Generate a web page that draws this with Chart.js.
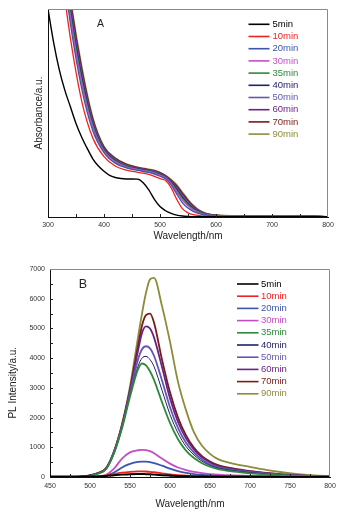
<!DOCTYPE html>
<html>
<head>
<meta charset="utf-8">
<script src="https://cdn.jsdelivr.net/npm/chart.js@4.4.0/dist/chart.umd.min.js"></script>
<style>
  body { margin: 0; background: #fff; }
  canvas { position: absolute; left: 0; }
  #chartA { top: 0; }
  #chartB { top: 245px; }
</style>
</head>
<body>
<canvas id="chartA" width="349" height="245"></canvas>
<canvas id="chartB" width="349" height="269"></canvas>
<script>
// Serienamn (reaktionstid)
const tider = ["5min", "10min", "20min", "30min", "35min", "40min", "50min", "60min", "70min", "90min"];

// Panel A: absorbans, våglängder
const absWl5 = [300, 310, 320, 330, 340, 350, 360, 370, 380, 390, 400, 410, 420, 430, 440, 450, 460, 470, 480, 490, 500, 510, 520, 530, 540, 550, 560, 600, 700, 800];
const absWl = [300, 320, 340, 360, 380, 400, 420, 440, 460, 480, 490, 500, 510, 520, 530, 540, 550, 560, 570, 580, 590, 600, 650, 700, 750, 800];

const abs5 = [1.0, 0.84, 0.71, 0.61, 0.53, 0.45, 0.385, 0.33, 0.28, 0.245, 0.22, 0.2, 0.19, 0.185, 0.183, 0.183, 0.182, 0.165, 0.13, 0.085, 0.05, 0.03, 0.017, 0.009, 0.005, 0.003, 0.002, 0.002, 0.002, 0.001];
const abs10 = [1.6, 1.25, 0.86, 0.56, 0.38, 0.29, 0.245, 0.225, 0.215, 0.205, 0.195, 0.185, 0.175, 0.14, 0.085, 0.04, 0.02, 0.011, 0.007, 0.005, 0.004, 0.003, 0.002, 0.002, 0.002, 0.001];
const abs20 = [1.7, 1.34, 0.93, 0.62, 0.415, 0.31, 0.259, 0.236, 0.224, 0.214, 0.206, 0.196, 0.184, 0.154, 0.11, 0.068, 0.043, 0.026, 0.016, 0.01, 0.007, 0.005, 0.003, 0.003, 0.003, 0.001];
const abs30 = [1.75, 1.375, 0.96, 0.645, 0.43, 0.315, 0.265, 0.24, 0.228, 0.218, 0.21, 0.2, 0.188, 0.16, 0.12, 0.08, 0.053, 0.033, 0.02, 0.012, 0.0085, 0.006, 0.004, 0.0035, 0.004, 0.0015];
const abs35 = [1.78, 1.4, 0.98, 0.66, 0.44, 0.32, 0.269, 0.243, 0.23, 0.22, 0.213, 0.203, 0.19, 0.164, 0.127, 0.088, 0.059, 0.037, 0.023, 0.014, 0.009, 0.0066, 0.0045, 0.0038, 0.0044, 0.0016];
const abs40 = [1.8, 1.42, 0.996, 0.676, 0.448, 0.324, 0.272, 0.245, 0.232, 0.222, 0.215, 0.205, 0.192, 0.167, 0.133, 0.094, 0.064, 0.041, 0.025, 0.015, 0.01, 0.007, 0.005, 0.004, 0.0047, 0.0017];
const abs50 = [1.83, 1.44, 1.012, 0.69, 0.456, 0.328, 0.275, 0.248, 0.234, 0.224, 0.218, 0.208, 0.194, 0.17, 0.138, 0.1, 0.069, 0.044, 0.027, 0.016, 0.011, 0.0076, 0.005, 0.0043, 0.005, 0.0018];
const abs60 = [1.85, 1.46, 1.028, 0.703, 0.464, 0.332, 0.279, 0.25, 0.236, 0.226, 0.22, 0.21, 0.196, 0.174, 0.144, 0.107, 0.075, 0.048, 0.029, 0.018, 0.0116, 0.008, 0.0054, 0.0045, 0.0054, 0.0018];
const abs70 = [1.88, 1.48, 1.044, 0.716, 0.472, 0.336, 0.282, 0.253, 0.238, 0.228, 0.223, 0.213, 0.198, 0.177, 0.149, 0.114, 0.08, 0.052, 0.031, 0.019, 0.0124, 0.0085, 0.0057, 0.0048, 0.0057, 0.0019];
const abs90 = [1.9, 1.5, 1.06, 0.73, 0.48, 0.34, 0.285, 0.255, 0.24, 0.23, 0.225, 0.215, 0.2, 0.18, 0.155, 0.12, 0.085, 0.055, 0.033, 0.02, 0.013, 0.009, 0.006, 0.005, 0.006, 0.002];

// Panel B: PL-intensitet
const plWl = [450, 460, 470, 480, 490, 500, 510, 520, 530, 540, 550, 560, 565, 570, 575, 580, 590, 600, 610, 620, 630, 640, 650, 660, 680, 700, 720, 740, 760, 780, 800];

const pl5 = [20, 20, 15, 15, 15, 15, 20, 35, 60, 80, 95, 100, 100, 95, 90, 80, 60, 45, 32, 24, 18, 15, 12, 10, 8, 6, 5, 4, 3, 2, 2];
const pl10 = [0, 0, 0, 0, 0, 5, 15, 45, 100, 145, 175, 190, 190, 185, 175, 160, 125, 90, 62, 42, 30, 22, 16, 12, 8, 5, 4, 3, 2, 1, 1];
const pl20 = [0, 0, 0, 0, 0, 3, 10, 40, 150, 320, 440, 510, 520, 515, 500, 470, 380, 280, 195, 135, 95, 68, 50, 38, 25, 17, 11, 8, 5, 3, 2];
const pl30 = [0, 0, 0, 0, 0, 5, 20, 70, 280, 620, 830, 900, 915, 905, 870, 800, 620, 450, 320, 235, 170, 128, 98, 78, 52, 36, 26, 18, 12, 8, 5];
const pl35 = [0, 0, 0, 4, 10, 40, 110, 260, 800, 1640, 2700, 3620, 3820, 3760, 3560, 3270, 2520, 1820, 1270, 890, 640, 465, 345, 265, 180, 125, 85, 55, 34, 20, 12];
const pl40 = [0, 0, 0, 4, 10, 42, 115, 265, 810, 1660, 2750, 3720, 4000, 4060, 3950, 3720, 2920, 2100, 1480, 1030, 740, 530, 390, 300, 210, 150, 100, 65, 40, 24, 14];
const pl50 = [0, 0, 0, 5, 12, 45, 120, 270, 820, 1680, 2820, 3950, 4300, 4400, 4330, 4080, 3250, 2350, 1650, 1150, 820, 590, 430, 330, 230, 165, 115, 72, 45, 27, 16];
const pl60 = [0, 0, 0, 5, 15, 50, 125, 280, 840, 1720, 2900, 4250, 4850, 5070, 5000, 4700, 3700, 2650, 1850, 1300, 920, 660, 490, 370, 260, 185, 130, 82, 50, 30, 18];
const pl70 = [0, 0, 0, 5, 15, 55, 130, 290, 850, 1750, 2950, 4400, 5100, 5450, 5500, 5200, 3950, 2850, 2000, 1400, 980, 700, 520, 400, 280, 200, 140, 90, 55, 32, 20];
const pl90 = [0, 0, 0, 5, 20, 60, 140, 300, 870, 1780, 3050, 4700, 5500, 6200, 6650, 6700, 5750, 4550, 3200, 2250, 1500, 1050, 780, 600, 440, 340, 240, 160, 100, 55, 30];

// Färger för serierna
const farger = ["#000000", "#ee2222", "#3a55aa", "#c44fc4", "#2e8a3a", "#22226a", "#6556b2", "#6a2288", "#7a1a1a", "#8c8c3a"];

const font = "'Liberation Sans', Arial, sans-serif";

// Ram, inåtvända streck, panelbokstav och legend
const ramPlugin = {
    id: "ram",
    afterDraw(chart, args, o) {
        const ctx = chart.ctx;
        const a = chart.chartArea;
        const x = chart.scales.x;
        const y = chart.scales.y;
        ctx.save();
        ctx.lineWidth = 1;
        ctx.strokeStyle = "#8a8a8a";
        ctx.beginPath();
        ctx.moveTo(a.left, a.top + 0.5);
        ctx.lineTo(a.right - 0.5, a.top + 0.5);
        ctx.lineTo(a.right - 0.5, a.bottom);
        ctx.stroke();

        ctx.strokeStyle = "#222";
        ctx.beginPath();
        if (o.xStep) {
            for (let v = x.min + o.xStep; v < x.max; v += o.xStep) {
                const px = Math.round(x.getPixelForValue(v)) + 0.5;
                ctx.moveTo(px, a.bottom);
                ctx.lineTo(px, a.bottom - 3);
            }
        }
        if (o.yStep) {
            for (let v = y.min + o.yStep; v < y.max; v += o.yStep) {
                const py = Math.round(y.getPixelForValue(v)) + 0.5;
                ctx.moveTo(a.left, py);
                ctx.lineTo(a.left + 3, py);
            }
        }
        ctx.stroke();

        // panelbokstav
        ctx.fillStyle = "#222";
        ctx.font = o.panelSize + "px " + font;
        ctx.textAlign = "center";
        ctx.textBaseline = "middle";
        ctx.fillText(o.panel, o.panelX, o.panelY);

        // legend
        ctx.font = "9.5px " + font;
        ctx.textAlign = "left";
        chart.data.datasets.forEach((ds, i) => {
            const ly = o.legY + i * o.legGap;
            ctx.strokeStyle = ds.borderColor;
            ctx.lineWidth = 1.6;
            ctx.beginPath();
            ctx.moveTo(o.legX0, ly);
            ctx.lineTo(o.legX1, ly);
            ctx.stroke();
            ctx.fillStyle = ds.borderColor;
            ctx.fillText(ds.label, o.legText, ly);
        });
        ctx.restore();
    }
};

// Bygg dataset från arrayerna
function bygg(wls, serier, bredd) {
    return tider.map((namn, i) => ({
        label: namn,
        data: wls[i].map((w, j) => ({ x: w, y: serier[i][j] })),
        borderColor: farger[i],
        borderWidth: bredd[i],
        pointRadius: 0,
        cubicInterpolationMode: "monotone",
        fill: false
    }));
}

const absSerier = [abs5, abs10, abs20, abs30, abs35, abs40, abs50, abs60, abs70, abs90];
const absWls = absSerier.map((s, i) => (i === 0 ? absWl5 : absWl));
const plSerier = [pl5, pl10, pl20, pl30, pl35, pl40, pl50, pl60, pl70, pl90];
const plWls = plSerier.map(() => plWl);

function axelX(min, max, steg, hojd, tickPad, titelPad) {
    return {
        type: "linear", min: min, max: max,
        grid: { display: false, drawTicks: false },
        border: { color: "#111", width: 1 },
        ticks: { stepSize: steg, padding: tickPad, color: "#333", font: { family: font, size: 7 }, callback: v => String(v) },
        title: { display: true, text: "Wavelength/nm", color: "#222", font: { family: font, size: 10 }, padding: { top: 0, bottom: titelPad } },
        afterFit(scale) { scale.height = hojd; }
    };
}

// Panel A
new Chart(document.getElementById("chartA"), {
    type: "line",
    data: { datasets: bygg(absWls, absSerier, [1.4, 1.3, 1.3, 1.3, 1.3, 1.3, 1.3, 1.3, 1.3, 1.3]) },
    options: {
        responsive: false,
        animation: false,
        layout: { padding: { left: 0, top: 9, right: 21, bottom: 0 } },
        plugins: {
            legend: { display: false },
            tooltip: { enabled: false },
            ram: { xStep: 50, yStep: 0, panel: "A", panelSize: 10.5, panelX: 100.5, panelY: 24.5,
                   legX0: 248.5, legX1: 269.5, legText: 272.5, legY: 24.3, legGap: 12.2 }
        },
        scales: {
            x: axelX(300, 800, 100, 28, 4, 2.5),
            y: {
                type: "linear", min: 0, max: 1,
                grid: { display: false, drawTicks: false },
                border: { color: "#111", width: 1 },
                ticks: { display: false },
                title: { display: true, text: "Absorbance/a.u.", color: "#222", font: { family: font, size: 10 }, padding: { top: 33, bottom: 0 } },
                afterFit(scale) { scale.width = 48; }
            }
        }
    },
    plugins: [ramPlugin]
});

// Panel B
new Chart(document.getElementById("chartB"), {
    type: "line",
    data: { datasets: bygg(plWls, plSerier, [2, 1.8, 1.8, 1.8, 1.8, 1, 1.8, 1.8, 1.8, 1.8]) },
    options: {
        responsive: false,
        animation: false,
        layout: { padding: { left: 0, top: 24, right: 19, bottom: 0 } },
        plugins: {
            legend: { display: false },
            tooltip: { enabled: false },
            ram: { xStep: 25, yStep: 500, panel: "B", panelSize: 12.5, panelX: 83, panelY: 39.7,
                   legX0: 237, legX1: 258.5, legText: 261, legY: 39, legGap: 12.2 }
        },
        scales: {
            x: axelX(450, 800, 50, 37, 5, 3.5),
            y: {
                type: "linear", min: 0, max: 7000,
                grid: { display: false, drawTicks: false },
                border: { color: "#111", width: 1 },
                ticks: { stepSize: 1000, padding: 5, color: "#333", font: { family: font, size: 7 }, callback: v => String(v) },
                title: { display: true, text: "PL Intensity/a.u.       ", color: "#222", font: { family: font, size: 10 }, padding: { top: 7, bottom: 0 } },
                afterFit(scale) { scale.width = 50; }
            }
        }
    },
    plugins: [ramPlugin]
});
</script>
</body>
</html>
